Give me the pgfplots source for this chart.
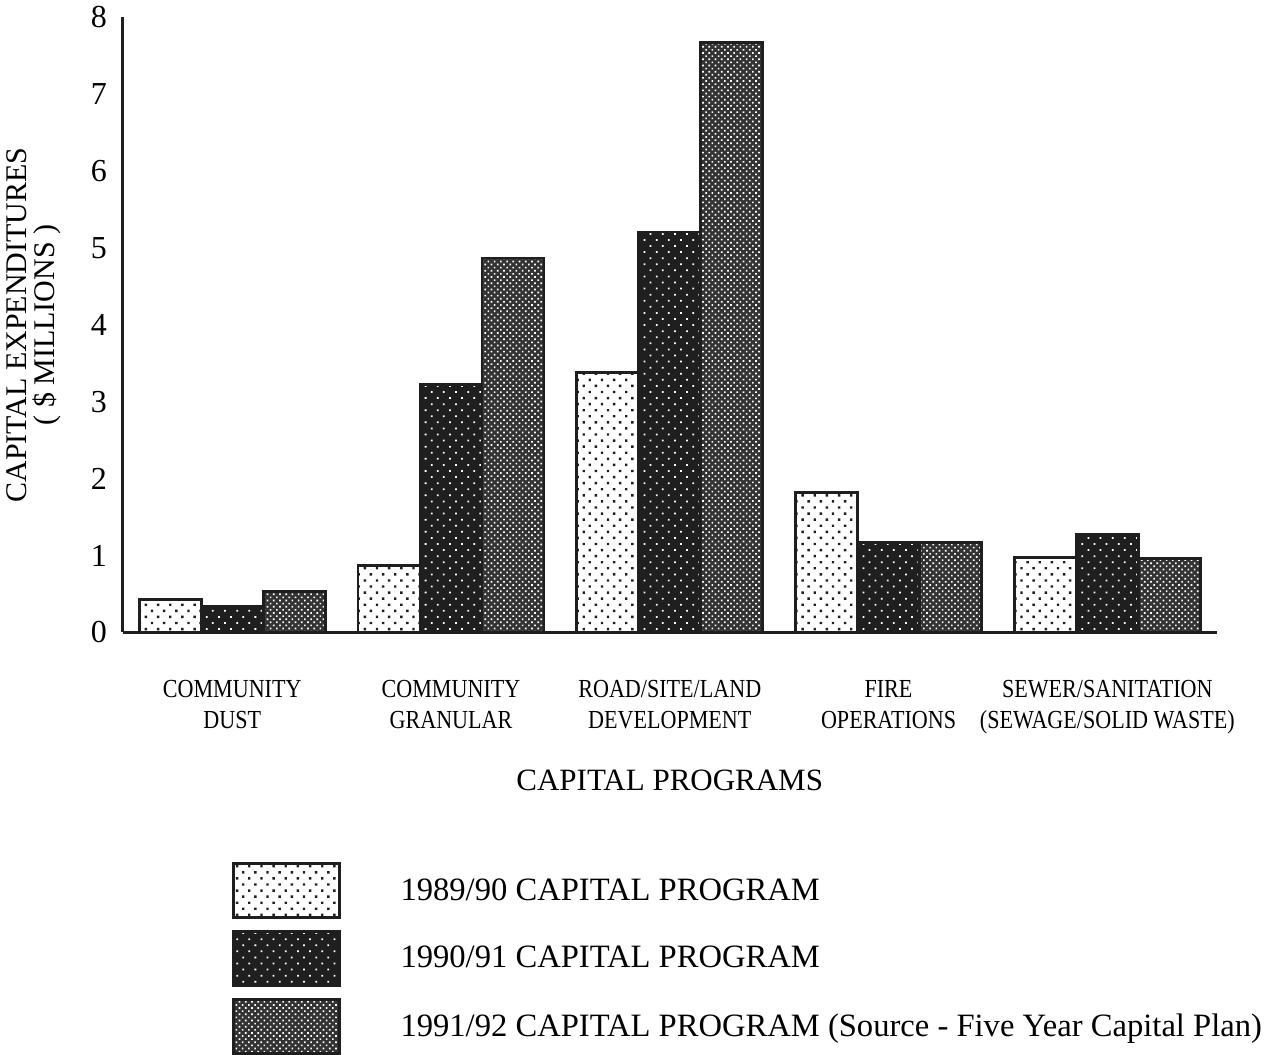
\documentclass[border=0pt]{standalone}
\usepackage{fontspec}
\setmainfont{Liberation Serif}
\newfontfamily\condfont[FakeStretch=0.85]{Liberation Serif}
\usepackage{pgfplots}
\pgfplotsset{compat=1.18}
\usetikzlibrary{patterns.meta}

\begin{document}
\begin{tikzpicture}
\begin{axis}[
    scale only axis,
    width=547pt, height=307.5pt,
    ybar=0pt, bar width=31pt,
    xmin=-0.5, xmax=4.5,
    ymin=0, ymax=8,
    axis x line=bottom, axis y line=left,
    axis line style={-, line width=1.6pt, black!88},
    xtick=data, ytick={0,...,8},
    xticklabels={{COMMUNITY\\DUST},{COMMUNITY\\GRANULAR},{ROAD/SITE/LAND\\DEVELOPMENT},{FIRE\\OPERATIONS},{SEWER/SANITATION\\(SEWAGE/SOLID WASTE)}},
    major tick length=0pt,
    /pgf/number format/assume math mode=true,
    yticklabel style={font=\fontsize{16}{16}\selectfont, xshift=-4.5pt},
    xticklabel style={font=\condfont\fontsize{13}{15.5}\selectfont, align=center, anchor=north, yshift=-20.5pt},
    xlabel={CAPITAL PROGRAMS},
    xlabel style={font=\fontsize{15.5}{16}\selectfont, at={(axis description cs:0.5,0)}, anchor=center, yshift=-74pt},
    ylabel={CAPITAL EXPENDITURES\\( \$ MILLIONS )},
    ylabel style={font=\fontsize{15}{14}\selectfont, align=center, at={(axis description cs:-0.0814,0.5)}, anchor=center},
    legend style={at={(axis description cs:0.0996,-0.374)}, anchor=north west,
        draw=none, fill=none, inner sep=0pt, outer sep=0pt, row sep=5.5pt,
        font=\fontsize{16.3}{18}\selectfont, nodes={inner sep=0pt}},
    legend cell align=left,
    legend image code/.code={\draw[#1] (0pt,-13.5pt) rectangle (53pt,13.5pt); \path (83pt,0pt);},
]
% 1989/90
\addplot[draw=black!88, line width=1.4pt, fill=white,
    postaction={pattern={Dots[distance=4.3pt, angle=45, radius=0.85pt]}, pattern color=black!88}]
    coordinates {(0,0.43) (1,0.875) (2,3.38) (3,1.82) (4,0.975)};
% 1990/91
\addplot[draw=black!88, line width=1.4pt, fill=black!88,
    postaction={pattern={Dots[distance=4.3pt, angle=45, radius=0.62pt]}, pattern color=white}]
    coordinates {(0,0.34) (1,3.23) (2,5.21) (3,1.17) (4,1.27)};
% 1991/92
\addplot[draw=black!88, line width=1.4pt, fill=black!80,
    postaction={pattern={Dots[distance=2.2pt, angle=45, radius=0.58pt]}, pattern color=white}]
    coordinates {(0,0.53) (1,4.87) (2,7.67) (3,1.17) (4,0.96)};
\legend{1989/90 CAPITAL PROGRAM,1990/91 CAPITAL PROGRAM,1991/92 CAPITAL PROGRAM (Source - Five Year Capital Plan)}
\end{axis}
% white margin on the right, as in the scan
\path (current bounding box.east) ++(6.5pt,0pt);
\end{tikzpicture}
\end{document}
